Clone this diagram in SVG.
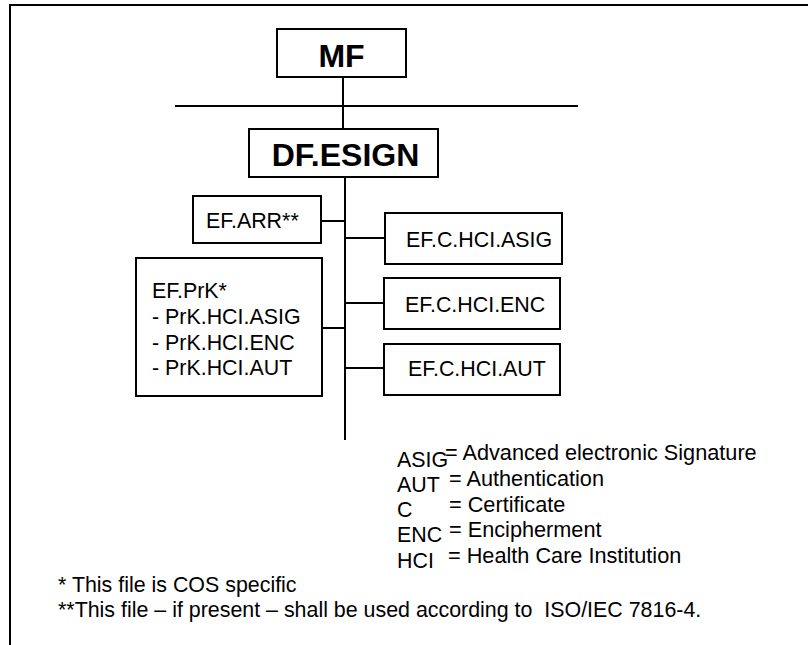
<svg xmlns="http://www.w3.org/2000/svg" width="808" height="645" viewBox="0 0 808 645">
<style>
.box{fill:#fff;stroke:#000;stroke-width:2}
.ln{stroke:#000;stroke-width:2;fill:none}
.t{font-family:"Liberation Sans",Arial,sans-serif;font-size:21.4px;fill:#000}
.d{font-size:21.7px}
.b{font-family:"Liberation Sans",Arial,sans-serif;font-weight:bold;fill:#000}
</style>
<rect width="808" height="645" fill="#fff"/>
<g id="frame"><path class="ln" d="M10,645 V5 H808"/></g>
<g id="connectors">
<path class="ln" d="M343,77 V106"/>
<path class="ln" d="M175,106 H578"/>
<path class="ln" d="M343,106 V129"/>
<path class="ln" d="M345,177 V440"/>
<path class="ln" d="M321,221 H345"/>
<path class="ln" d="M345,238 H385"/>
<path class="ln" d="M345,303 H384"/>
<path class="ln" d="M345,368 H384"/>
<path class="ln" d="M322,328 H345"/>
</g>
<g id="MF"><rect class="box" x="277" y="29" width="129" height="48"/><text class="b" x="341.5" y="67" font-size="32" text-anchor="middle">MF</text></g>
<g id="DF.ESIGN"><rect class="box" x="249" y="129" width="189" height="48"/><text class="b" x="345.5" y="166" font-size="32" text-anchor="middle">DF.ESIGN</text></g>
<g id="EF.ARR"><rect class="box" x="193" y="196" width="128" height="47"/><text class="t" x="206" y="228">EF.ARR**</text></g>
<g id="EF.PrK"><rect class="box" x="136" y="258" width="186" height="138"/>
<text class="t" x="152" y="298">EF.PrK*</text>
<text class="t" x="152" y="324">- PrK.HCI.ASIG</text>
<text class="t" x="152" y="350">- PrK.HCI.ENC</text>
<text class="t" x="152" y="375">- PrK.HCI.AUT</text></g>
<g id="EF.C.HCI.ASIG"><rect class="box" x="385" y="213" width="177" height="51"/><text class="t" x="406" y="247">EF.C.HCI.ASIG</text></g>
<g id="EF.C.HCI.ENC"><rect class="box" x="384" y="278" width="176" height="51"/><text class="t" x="405" y="312">EF.C.HCI.ENC</text></g>
<g id="EF.C.HCI.AUT"><rect class="box" x="384" y="344" width="176" height="51"/><text class="t" x="408" y="376">EF.C.HCI.AUT</text></g>
<g id="legend">
<text class="t" x="397" y="467" font-size="20">ASIG</text><text class="t d" x="445" y="460">= Advanced electronic Signature</text>
<text class="t" x="397" y="492" font-size="20">AUT</text><text class="t d" x="449" y="486">= Authentication</text>
<text class="t" x="397" y="517" font-size="20">C</text><text class="t d" x="449" y="512">= Certificate</text>
<text class="t" x="397" y="542" font-size="20">ENC</text><text class="t d" x="449" y="537">= Encipherment</text>
<text class="t" x="397" y="568" font-size="20">HCI</text><text class="t d" x="448" y="563">= Health Care Institution</text>
</g>
<g id="notes">
<text class="t" x="58" y="592">* This file is COS specific</text>
<text class="t" x="58" y="617" xml:space="preserve">**This file – if present – shall be used according to  ISO/IEC 7816-4.</text>
</g>
</svg>
